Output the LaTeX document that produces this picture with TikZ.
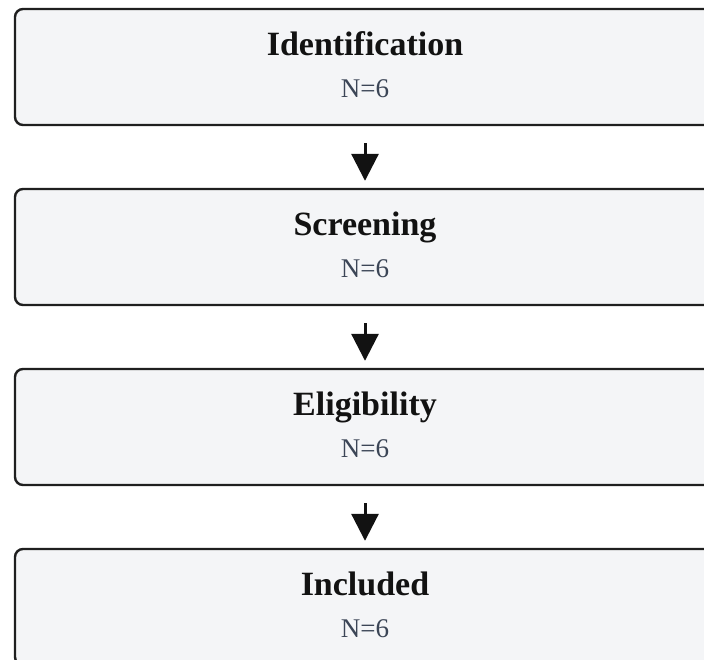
\documentclass[tikz,border=0pt]{standalone}
\usepackage{fontspec}
\setmainfont{Liberation Serif}
\usetikzlibrary{arrows.meta,positioning}

\definecolor{boxfill}{HTML}{F4F5F7}
\definecolor{boxline}{HTML}{1F1F1F}
\definecolor{countgray}{HTML}{3B4556}

\tikzset{
  stage/.style={rectangle, draw=boxline, line width=2.4pt, fill=boxfill, rounded corners=8pt, minimum width=700pt, minimum height=116pt},
  title/.style={font=\fontsize{34}{39}\selectfont\bfseries, text=black!93, inner sep=0pt, anchor=base},
  count/.style={font=\fontsize{27}{32}\selectfont, text=countgray, inner sep=0pt, anchor=base},
  flow/.style={line width=3pt, draw=black!93, -{Triangle[length=27pt,width=27pt]}, shorten <=17pt, shorten >=7pt}
}

\begin{document}
\begin{tikzpicture}[node distance=61.6pt, auto]
    \useasboundingbox (0,0) rectangle (704pt,-659pt);
    \clip (0,0) rectangle (704pt,-659pt);
        \node [stage] (ident) at (365pt,-67pt) {};
        \node [stage, below=of ident] (screen) {};
        \node [stage, below=of screen] (elig) {};
        \node [stage, below=of elig] (incl) {};

        \node [title] (identTitle) at ([yshift=-48pt]ident.north) {Identification};
        \node [count] (identN) at ([yshift=-90pt]ident.north) {N=6};
        \node [title] (screenTitle) at ([yshift=-48pt]screen.north) {Screening};
        \node [count] (screenN) at ([yshift=-90pt]screen.north) {N=6};
        \node [title] (eligTitle) at ([yshift=-48pt]elig.north) {Eligibility};
        \node [count] (eligN) at ([yshift=-90pt]elig.north) {N=6};
        \node [title] (inclTitle) at ([yshift=-48pt]incl.north) {Included};
        \node [count] (inclN) at ([yshift=-90pt]incl.north) {N=6};

        \draw [flow] (ident) -- (screen);
        \draw [flow] (screen) -- (elig);
        \draw [flow] (elig) -- (incl);
    \end{tikzpicture}
\end{document}
